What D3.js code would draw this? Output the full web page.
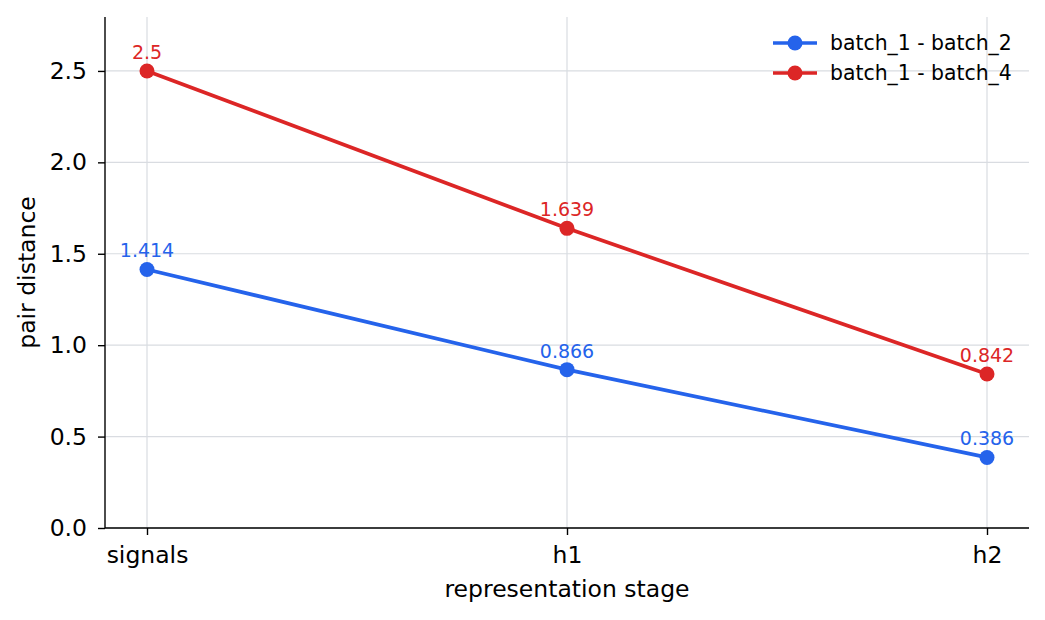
<!DOCTYPE html>
<html>
<head>
<meta charset="utf-8">
<script src="https://cdn.jsdelivr.net/npm/d3@7"></script>
<style>
  body { margin: 0; background: #fff; }
  svg text { font-family: "DejaVu Sans", sans-serif; }
</style>
</head>
<body>
<div id="chart"></div>
<script>
const stages = ['signals', 'h1', 'h2'];
const seriesNames = ['batch_1 - batch_2', 'batch_1 - batch_4'];
const seriesColors = ['#2563eb', '#dc2626'];
const pair12 = [1.414, 0.866, 0.386];
const pair14 = [2.5, 1.639, 0.842];
const yTicks = [0, 0.5, 1.0, 1.5, 2.0, 2.5];

const W = 1045, H = 620;
const margin = { top: 17, right: 16, bottom: 92, left: 105 };
const width = W - margin.left - margin.right;
const height = H - margin.top - margin.bottom;

const svg = d3.select('#chart').append('svg').attr('width', W).attr('height', H)
  .append('g').attr('transform', `translate(${margin.left},${margin.top})`);

const x = d3.scalePoint().domain(stages).range([0, width]).padding(0.1);
const y = d3.scaleLinear().domain([0, 2.795]).range([height, 0]);

// grid
svg.append('g').selectAll('line.gy').data(yTicks).enter().append('line')
  .attr('x1', 0).attr('x2', width).attr('y1', d => y(d)).attr('y2', d => y(d))
  .attr('stroke', '#d9dce1').attr('stroke-width', 1.2);
svg.append('g').selectAll('line.gx').data(stages).enter().append('line')
  .attr('x1', d => x(d)).attr('x2', d => x(d)).attr('y1', 0).attr('y2', height)
  .attr('stroke', '#d9dce1').attr('stroke-width', 1.2);

// axes
const xAxis = svg.append('g').attr('transform', `translate(0,${height})`)
  .call(d3.axisBottom(x).tickSize(7).tickPadding(11));
const yAxis = svg.append('g')
  .call(d3.axisLeft(y).tickValues(yTicks).tickFormat(d3.format('.1f')).tickSize(7).tickPadding(11));
[xAxis, yAxis].forEach(a => {
  a.select('.domain').attr('stroke', '#000').attr('stroke-width', 1.4);
  a.selectAll('.tick line').attr('stroke', '#000').attr('stroke-width', 1.4);
  a.selectAll('.tick text').attr('fill', '#000').style('font-size', '23.5px').style('font-family', '"DejaVu Sans", sans-serif');
});
xAxis.select('.domain').attr('d', `M0,0H${width}`);
yAxis.select('.domain').attr('d', `M0,${height}V0`);

svg.append('text').attr('x', width / 2).attr('y', height + 69).attr('text-anchor', 'middle')
  .style('font-size', '23.5px').text('representation stage');
svg.append('text').attr('transform', 'rotate(-90)').attr('x', -height / 2).attr('y', -70)
  .attr('text-anchor', 'middle').style('font-size', '23.5px').text('pair distance');

const seriesData = [pair12, pair14];
const line = d3.line().x((d, i) => x(stages[i])).y(d => y(d));

seriesData.forEach((vals, si) => {
  const c = seriesColors[si];
  svg.append('path').datum(vals).attr('d', line).attr('fill', 'none')
    .attr('stroke', c).attr('stroke-width', 3.7);
  svg.selectAll(`.pt-${si}`).data(vals).enter().append('circle')
    .attr('cx', (d, i) => x(stages[i])).attr('cy', d => y(d)).attr('r', 7.5).attr('fill', c);
  svg.selectAll(`.lab-${si}`).data(vals).enter().append('text')
    .attr('x', (d, i) => x(stages[i])).attr('y', d => y(d) - 12)
    .attr('text-anchor', 'middle').attr('fill', c).style('font-size', '19px')
    .text(d => String(d));
});

// legend
const leg = svg.append('g').attr('transform', `translate(${773 - margin.left},${43 - margin.top})`);
seriesNames.forEach((name, i) => {
  const g = leg.append('g').attr('transform', `translate(0,${i * 30})`);
  g.append('line').attr('x1', 0).attr('x2', 44).attr('stroke', seriesColors[i]).attr('stroke-width', 3.7);
  g.append('circle').attr('cx', 22).attr('r', 7.5).attr('fill', seriesColors[i]);
  g.append('text').attr('x', 57).attr('dy', '0.36em').style('font-size', '20.4px').text(name);
});
</script>
</body>
</html>
